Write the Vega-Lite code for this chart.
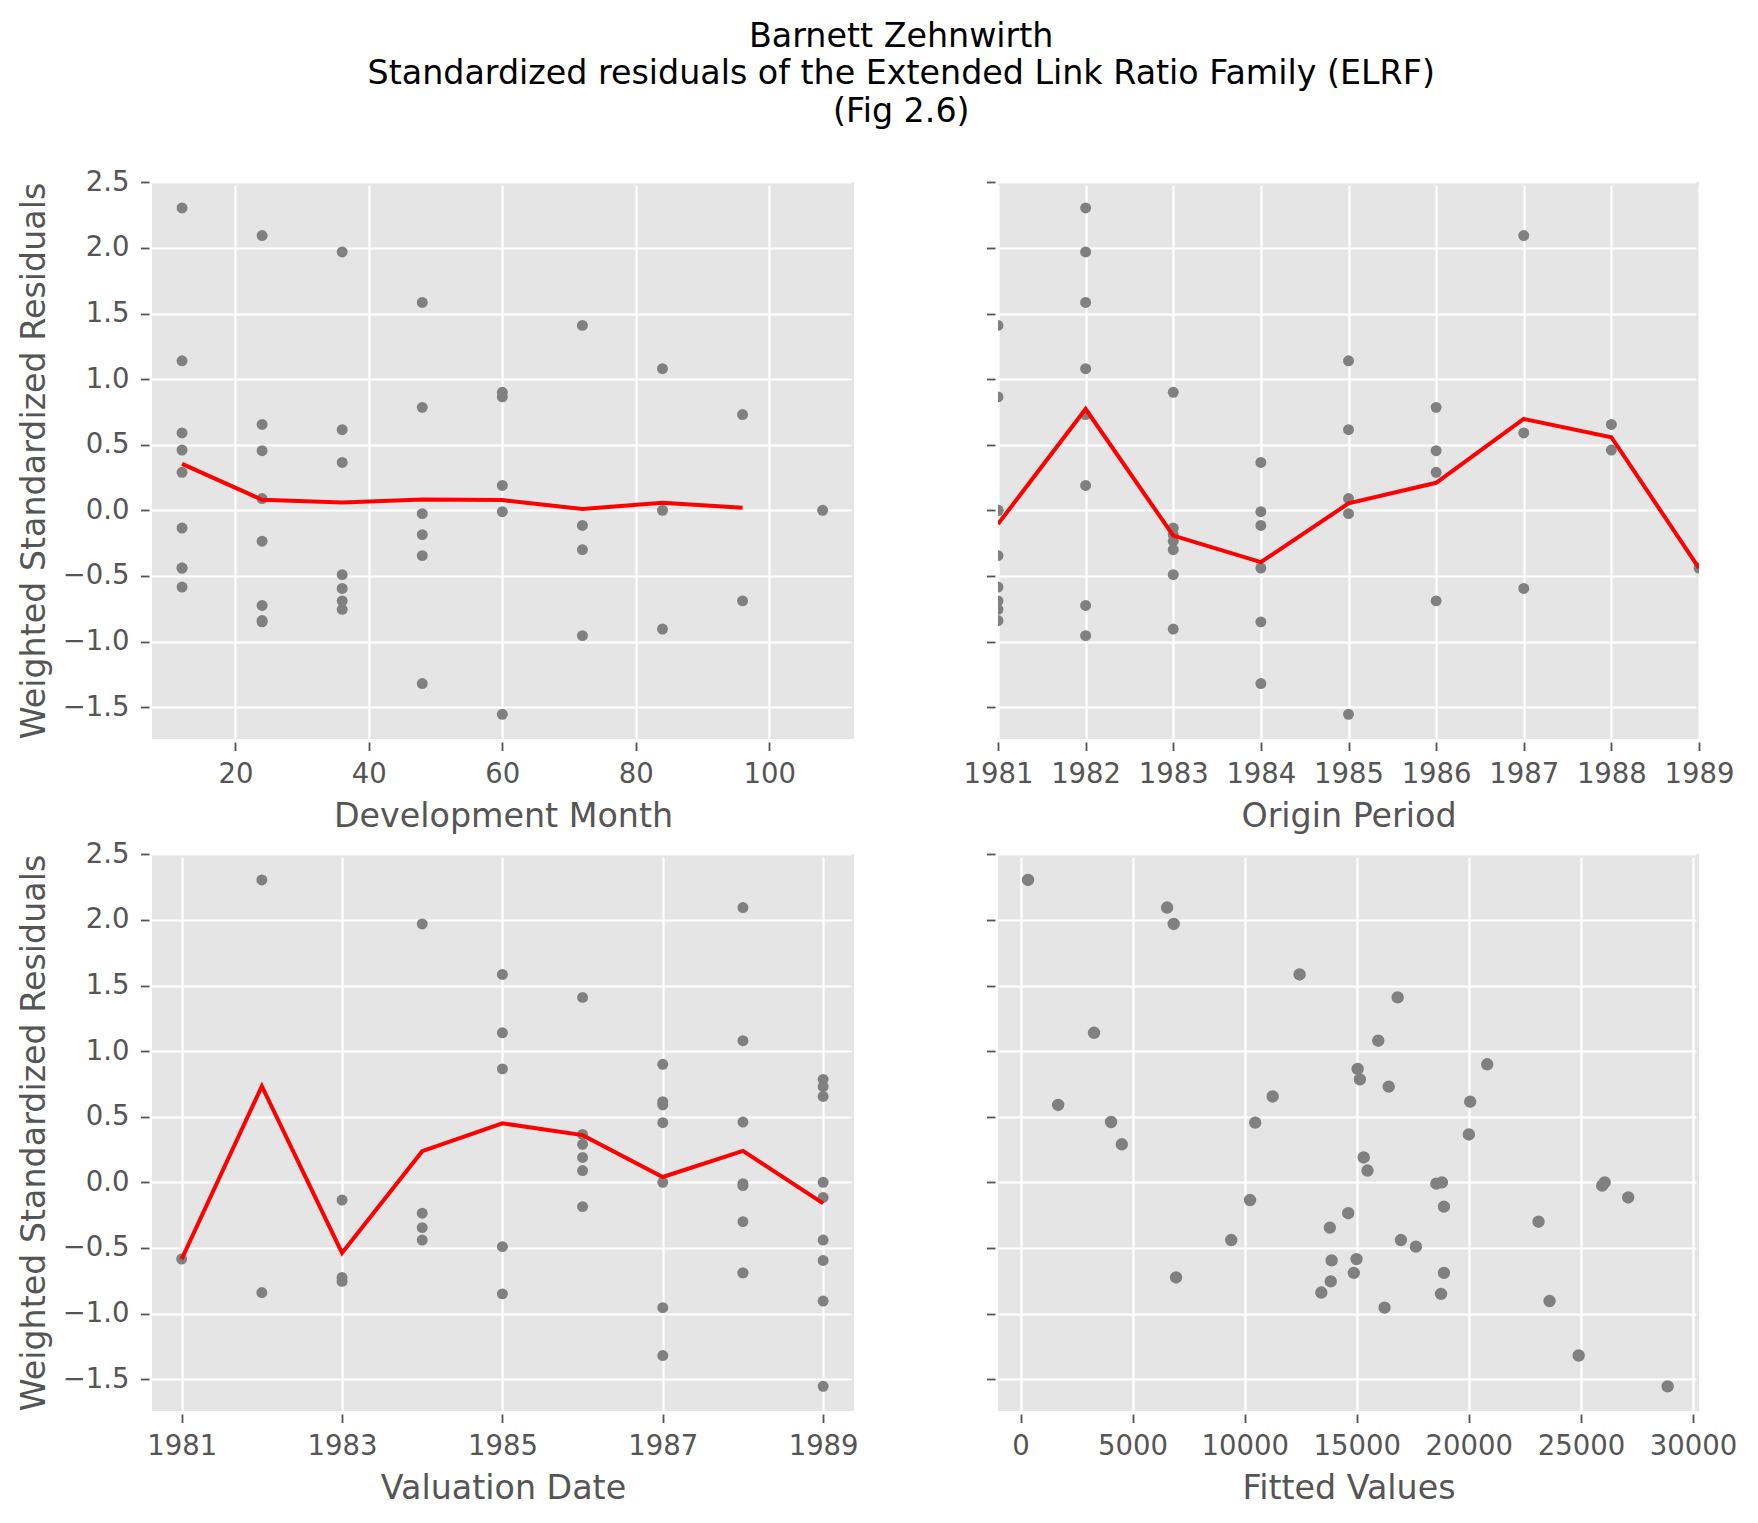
{
  "$schema": "https://vega.github.io/schema/vega-lite/v6.json",
  "background": "white",
  "padding": {"left": 17, "top": 19, "right": 10, "bottom": 10},
  "title": {
    "text": ["Barnett Zehnwirth", "Standardized residuals of the Extended Link Ratio Family (ELRF)", "(Fig 2.6)"],
    "font": "DejaVu Sans", "fontSize": 33.3, "fontWeight": "normal", "color": "#000000",
    "lineHeight": 37.6, "anchor": "middle", "dx": 24, "offset": 39
  },
  "data": {"values": [
    {"origin": 1981, "dev": 12, "valuation": 1981, "fitted": 14990, "residual": -0.585},
    {"origin": 1981, "dev": 24, "valuation": 1982, "fitted": 13420, "residual": -0.84},
    {"origin": 1981, "dev": 36, "valuation": 1983, "fitted": 13840, "residual": -0.755},
    {"origin": 1981, "dev": 48, "valuation": 1984, "fitted": 13800, "residual": -0.345},
    {"origin": 1981, "dev": 60, "valuation": 1985, "fitted": 15040, "residual": 0.865},
    {"origin": 1981, "dev": 72, "valuation": 1986, "fitted": 16825, "residual": 1.41},
    {"origin": 1981, "dev": 84, "valuation": 1987, "fitted": 18800, "residual": 0.0},
    {"origin": 1981, "dev": 96, "valuation": 1988, "fitted": 18890, "residual": -0.69},
    {"origin": 1981, "dev": 108, "valuation": 1989, "fitted": 26060, "residual": 0.0},
    {"origin": 1982, "dev": 12, "valuation": 1982, "fitted": 336, "residual": 2.305},
    {"origin": 1982, "dev": 24, "valuation": 1983, "fitted": 6940, "residual": -0.725},
    {"origin": 1982, "dev": 36, "valuation": 1984, "fitted": 6835, "residual": 1.97},
    {"origin": 1982, "dev": 48, "valuation": 1985, "fitted": 12450, "residual": 1.585},
    {"origin": 1982, "dev": 60, "valuation": 1986, "fitted": 15310, "residual": 0.19},
    {"origin": 1982, "dev": 72, "valuation": 1987, "fitted": 16240, "residual": -0.955},
    {"origin": 1982, "dev": 84, "valuation": 1988, "fitted": 15960, "residual": 1.08},
    {"origin": 1982, "dev": 96, "valuation": 1989, "fitted": 16425, "residual": 0.73},
    {"origin": 1983, "dev": 12, "valuation": 1983, "fitted": 10240, "residual": -0.135},
    {"origin": 1983, "dev": 24, "valuation": 1984, "fitted": 14620, "residual": -0.235},
    {"origin": 1983, "dev": 36, "valuation": 1985, "fitted": 17640, "residual": -0.49},
    {"origin": 1983, "dev": 48, "valuation": 1986, "fitted": 18890, "residual": -0.185},
    {"origin": 1983, "dev": 60, "valuation": 1987, "fitted": 20820, "residual": 0.9},
    {"origin": 1983, "dev": 72, "valuation": 1988, "fitted": 23110, "residual": -0.3},
    {"origin": 1983, "dev": 84, "valuation": 1989, "fitted": 23600, "residual": -0.905},
    {"origin": 1984, "dev": 12, "valuation": 1984, "fitted": 9400, "residual": -0.44},
    {"origin": 1984, "dev": 24, "valuation": 1985, "fitted": 18760, "residual": -0.85},
    {"origin": 1984, "dev": 36, "valuation": 1986, "fitted": 20000, "residual": 0.365},
    {"origin": 1984, "dev": 48, "valuation": 1987, "fitted": 24900, "residual": -1.32},
    {"origin": 1984, "dev": 60, "valuation": 1988, "fitted": 18550, "residual": -0.01},
    {"origin": 1984, "dev": 72, "valuation": 1989, "fitted": 27110, "residual": -0.115},
    {"origin": 1985, "dev": 12, "valuation": 1985, "fitted": 3280, "residual": 1.14},
    {"origin": 1985, "dev": 24, "valuation": 1986, "fitted": 15480, "residual": 0.09},
    {"origin": 1985, "dev": 36, "valuation": 1987, "fitted": 20060, "residual": 0.615},
    {"origin": 1985, "dev": 48, "valuation": 1988, "fitted": 25950, "residual": -0.025},
    {"origin": 1985, "dev": 60, "valuation": 1989, "fitted": 28870, "residual": -1.555},
    {"origin": 1986, "dev": 12, "valuation": 1986, "fitted": 4520, "residual": 0.29},
    {"origin": 1986, "dev": 24, "valuation": 1987, "fitted": 10470, "residual": 0.455},
    {"origin": 1986, "dev": 36, "valuation": 1988, "fitted": 14870, "residual": -0.69},
    {"origin": 1986, "dev": 48, "valuation": 1989, "fitted": 15140, "residual": 0.785},
    {"origin": 1987, "dev": 12, "valuation": 1987, "fitted": 1680, "residual": 0.59},
    {"origin": 1987, "dev": 24, "valuation": 1988, "fitted": 6540, "residual": 2.095},
    {"origin": 1987, "dev": 36, "valuation": 1989, "fitted": 13880, "residual": -0.595},
    {"origin": 1988, "dev": 12, "valuation": 1988, "fitted": 4040, "residual": 0.46},
    {"origin": 1988, "dev": 24, "valuation": 1989, "fitted": 11250, "residual": 0.655},
    {"origin": 1989, "dev": 12, "valuation": 1989, "fitted": 16970, "residual": -0.44}
  ]},
  "columns": 2,
  "spacing": {"row": 115, "column": 144},
  "bounds": "flush",
  "config": {
    "font": "DejaVu Sans",
    "view": {"fill": "#E5E5E5", "stroke": null},
    "axis": {
      "domain": false, "grid": true, "gridColor": "#FFFFFF", "gridWidth": 2.2,
      "tickColor": "#555555", "tickSize": 8.5, "tickWidth": 1.8, "offset": 3,
      "labelFont": "DejaVu Sans", "labelFontSize": 27.5, "labelColor": "#555555",
      "titleFont": "DejaVu Sans", "titleFontSize": 33.3, "titleColor": "#555555", "titleFontWeight": "normal",
      "labelFlush": false, "labelOverlap": false
    },
    "axisX": {"titlePadding": 12, "labelPadding": 10},
    "axisY": {"titlePadding": 10.5, "labelPadding": 11.5}
  },
  "concat": [
    {
      "width": 702, "height": 557,
      "layer": [
        {
          "mark": {"type": "circle", "size": 120, "color": "#808080", "opacity": 1, "clip": true},
          "encoding": {
            "x": {"field": "dev", "type": "quantitative", "title": "Development Month",
                  "scale": {"domain": [7.5, 112.7], "nice": false, "zero": false},
                  "axis": {"values": [20, 40, 60, 80, 100], "format": "d"}},
            "y": {"field": "residual", "type": "quantitative", "title": "Weighted Standardized Residuals",
                  "scale": {"domain": [-1.743, 2.503], "nice": false, "zero": false},
                  "axis": {"values": [-1.5, -1, -0.5, 0, 0.5, 1, 1.5, 2, 2.5], "format": ".1f"}}
          }
        },
        {
          "transform": [{"filter": "datum.dev < 108"}],
          "mark": {"type": "line", "color": "#FF0000", "strokeWidth": 4, "clip": true},
          "encoding": {
            "x": {"field": "dev", "type": "quantitative", "title": "Development Month"},
            "y": {"aggregate": "mean", "field": "residual", "type": "quantitative", "title": "Weighted Standardized Residuals"}
          }
        }
      ]
    },
    {
      "width": 701, "height": 557,
      "layer": [
        {
          "mark": {"type": "circle", "size": 120, "color": "#808080", "opacity": 1, "clip": true},
          "encoding": {
            "x": {"field": "origin", "type": "quantitative", "title": "Origin Period",
                  "scale": {"domain": [1981, 1989], "nice": false, "zero": false},
                  "axis": {"values": [1981, 1982, 1983, 1984, 1985, 1986, 1987, 1988, 1989], "format": "d"}},
            "y": {"field": "residual", "type": "quantitative", "title": null,
                  "scale": {"domain": [-1.743, 2.503], "nice": false, "zero": false},
                  "axis": {"values": [-1.5, -1, -0.5, 0, 0.5, 1, 1.5, 2, 2.5], "labels": false, "title": null}}
          }
        },
        {
          "mark": {"type": "line", "color": "#FF0000", "strokeWidth": 4, "clip": true},
          "encoding": {
            "x": {"field": "origin", "type": "quantitative", "title": "Origin Period"},
            "y": {"aggregate": "mean", "field": "residual", "type": "quantitative", "title": null}
          }
        }
      ]
    },
    {
      "width": 702, "height": 557,
      "layer": [
        {
          "mark": {"type": "circle", "size": 120, "color": "#808080", "opacity": 1, "clip": true},
          "encoding": {
            "x": {"field": "valuation", "type": "quantitative", "title": "Valuation Date",
                  "scale": {"domain": [1980.63, 1989.385], "nice": false, "zero": false},
                  "axis": {"values": [1981, 1983, 1985, 1987, 1989], "format": "d"}},
            "y": {"field": "residual", "type": "quantitative", "title": "Weighted Standardized Residuals",
                  "scale": {"domain": [-1.743, 2.503], "nice": false, "zero": false},
                  "axis": {"values": [-1.5, -1, -0.5, 0, 0.5, 1, 1.5, 2, 2.5], "format": ".1f"}}
          }
        },
        {
          "mark": {"type": "line", "color": "#FF0000", "strokeWidth": 4, "clip": true},
          "encoding": {
            "x": {"field": "valuation", "type": "quantitative", "title": "Valuation Date"},
            "y": {"aggregate": "mean", "field": "residual", "type": "quantitative", "title": "Weighted Standardized Residuals"}
          }
        }
      ]
    },
    {
      "width": 701, "height": 557,
      "mark": {"type": "circle", "size": 154, "color": "#808080", "opacity": 1, "clip": true},
      "encoding": {
        "x": {"field": "fitted", "type": "quantitative", "title": "Fitted Values",
              "scale": {"domain": [-1004, 30268], "nice": false, "zero": false},
              "axis": {"values": [0, 5000, 10000, 15000, 20000, 25000, 30000], "format": "d"}},
        "y": {"field": "residual", "type": "quantitative", "title": null,
              "scale": {"domain": [-1.743, 2.503], "nice": false, "zero": false},
              "axis": {"values": [-1.5, -1, -0.5, 0, 0.5, 1, 1.5, 2, 2.5], "labels": false, "title": null}}
      }
    }
  ]
}
